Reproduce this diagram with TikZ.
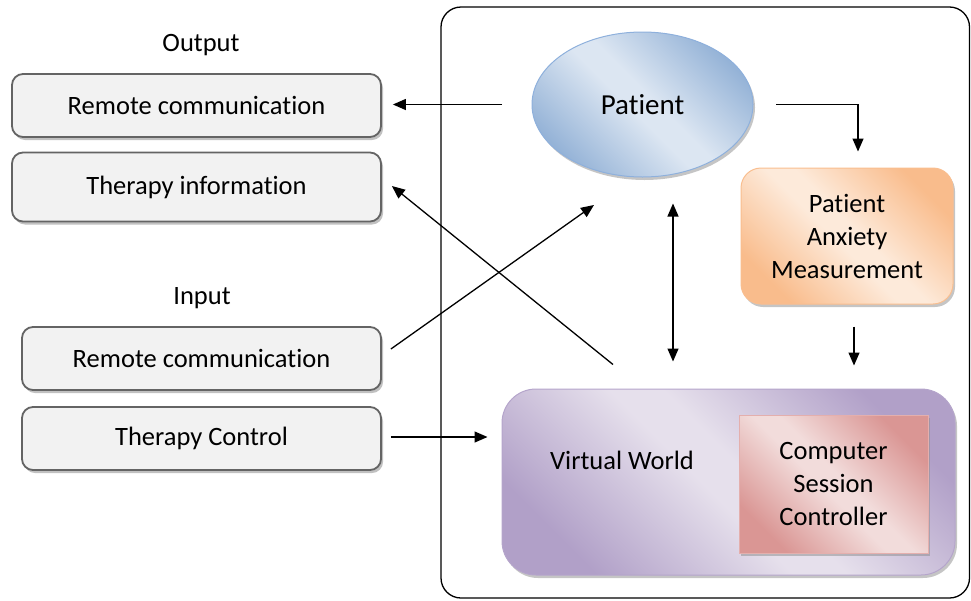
\documentclass[tikz,border=0pt]{standalone}
\usepackage{fontspec}
\setmainfont{Carlito}[RawFeature={-liga}]
\usetikzlibrary{arrows.meta,shadows,shapes.geometric,calc}

\definecolor{greyfill}{HTML}{F2F2F2}
\definecolor{greyline}{HTML}{646464}
\definecolor{blueD}{HTML}{95B3D7}
\definecolor{blueL}{HTML}{DCE6F2}
\definecolor{blueE}{HTML}{8EB0DC}
\definecolor{orangeD}{HTML}{F9BC8C}
\definecolor{orangeL}{HTML}{FDEADA}
\definecolor{orangeE}{HTML}{F9BE8F}
\definecolor{purpleD}{HTML}{B1A0C8}
\definecolor{purpleL}{HTML}{E6E0EC}
\definecolor{purpleE}{HTML}{B5A5CB}
\definecolor{pinkD}{HTML}{DA9694}
\definecolor{pinkL}{HTML}{F2DCDB}
\definecolor{pinkE}{HTML}{E4AFAD}

% diagonal "dark - light - dark" fills
\pgfdeclareverticalshading{blueshade}{100bp}{color(0bp)=(blueD); color(25bp)=(blueD); color(47bp)=(blueL); color(53bp)=(blueL); color(75bp)=(blueD); color(100bp)=(blueD)}
\pgfdeclareverticalshading{orangeshade}{100bp}{color(0bp)=(orangeD); color(25bp)=(orangeD); color(47bp)=(orangeL); color(53bp)=(orangeL); color(75bp)=(orangeD); color(100bp)=(orangeD)}
\pgfdeclareverticalshading{purpleshade}{100bp}{color(0bp)=(purpleD); color(25bp)=(purpleD); color(47bp)=(purpleL); color(53bp)=(purpleL); color(75bp)=(purpleD); color(100bp)=(purpleD)}
\pgfdeclareverticalshading{pinkshade}{100bp}{color(0bp)=(pinkD); color(25bp)=(pinkD); color(47bp)=(pinkL); color(53bp)=(pinkL); color(75bp)=(pinkD); color(100bp)=(pinkD)}

\begin{document}
\begin{tikzpicture}[x=1pt,y=-1pt,
  txt/.style={font=\fontsize{26.5}{33}\selectfont, align=center, inner sep=0pt},
  iobox/.style={txt, draw=greyline, line width=1.8pt, fill=greyfill,
    rounded corners=11pt, minimum width=369pt,
    drop shadow={shadow xshift=2pt, shadow yshift=-3pt, fill=black!35, opacity=0.7}},
  soft/.style={drop shadow={shadow xshift=2pt, shadow yshift=-3pt, fill=black!45, opacity=0.5}},
  arr/.style={line width=1.3pt, -{Triangle[length=13pt,width=11pt]}},
  twoarr/.style={line width=1.3pt, {Triangle[length=13pt,width=11pt]}-{Triangle[length=13pt,width=11pt]}},
  frame/.style={draw=black, line width=1.3pt, rounded corners=20pt}]
\useasboundingbox (0,0) rectangle (971,600);

% system frame
\node[frame, minimum width=528.5pt, minimum height=591pt, inner sep=0pt] (sys) at (705.25,302.5) {};

% output side
\node[txt] (outlbl) at (201,45) {Output};
\node[iobox, minimum height=63pt] (out1) at (196.5,105.5) {Remote communication};
\node[iobox, minimum height=69pt] (out2) at (196.5,187) {Therapy information};

% input side
\node[txt] (inlbl) at (202,298) {Input};
\node[iobox, minimum width=359pt, minimum height=63pt] (in1) at (201.5,358.5) {Remote communication};
\node[iobox, minimum width=359pt, minimum height=63pt] (in2) at (201.5,438.5) {Therapy Control};

% patient
\node[ellipse, draw=blueE, line width=1pt, shade, shading=blueshade, shading angle=-45,
  soft, minimum width=221pt, minimum height=145pt,
  inner sep=0pt, font=\fontsize{29}{34}\selectfont] (pat) at (642.5,104.5) {Patient};

% anxiety measurement
\node[txt, draw=orangeE, line width=1pt, rounded corners=20pt, shade, shading=orangeshade,
  shading angle=-45, soft, minimum width=212pt, minimum height=136pt]
  (anx) at (847,236) {Patient\\Anxiety\\Measurement};

% virtual world
\node[draw=purpleE, line width=1pt, rounded corners=34pt, shade, shading=purpleshade,
  shading angle=-45, soft, minimum width=453pt, minimum height=186pt, inner sep=0pt]
  (vw) at (728.5,482) {};
\node[txt] (vwlbl) at (622,460) {Virtual World};

% session controller
\node[txt, draw=pinkE, line width=1pt, shade, shading=pinkshade, shading angle=-45,
  soft, minimum width=189pt, minimum height=138pt]
  (csc) at (833.5,484) {Computer\\Session\\Controller};

% connectors
\draw[arr, shorten <=29.5pt, shorten >=11pt] (pat.west) -- (pat.west -| out1.east);
\draw[arr, shorten <=22.5pt, shorten >=16pt] (pat.east) -| ([xshift=11pt]anx.north);
\draw[arr] ([shift={(9pt,9.5pt)}]in1.east) -- ([shift={(-48.5pt,-100.5pt)}]pat.center);
\draw[arr] ([shift={(-115.5pt,24pt)}]vw.north) -- ([shift={(10pt,1pt)}]out2.east);
\draw[arr, shorten <=9pt, shorten >=14pt] (in2.east |- 0,437) -- (vw.west |- 0,437);
\draw[twoarr] ([xshift=30.5pt,yshift=-26pt]pat.south) -- ([xshift=-55.5pt,yshift=27pt]vw.north);
\draw[arr] ([xshift=7pt,yshift=-22pt]anx.south) -- ([xshift=125.5pt,yshift=23pt]vw.north);
\end{tikzpicture}
\end{document}
